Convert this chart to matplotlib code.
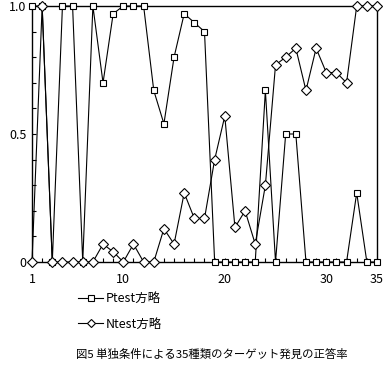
import matplotlib.pyplot as plt
import numpy as np

plt.rcParams['font.family'] = ['Noto Sans CJK JP', 'DejaVu Sans']

targets = np.arange(1, 36)
ptest = [1.0, 1.0, 0, 1.0, 1.0, 0, 1.0, 0.70, 0.97, 1.0,
         1.0, 1.0, 0.67, 0.54, 0.80, 0.97, 0.935, 0.90, 0, 0,
         0, 0, 0, 0.67, 0, 0.50, 0.50, 0, 0, 0,
         0, 0, 0.27, 0, 0]
ntest = [0, 1.0, 0, 0, 0, 0, 0, 0.07, 0.04, 0,
         0.07, 0, 0, 0.13, 0.07, 0.27, 0.17, 0.17, 0.40, 0.57,
         0.135, 0.20, 0.07, 0.30, 0.77, 0.80, 0.835, 0.67, 0.835, 0.74,
         0.74, 0.70, 1.0, 1.0, 1.0]
xtick_labels = [1, 10, 20, 30, 35]
caption = '図5 単独条件による35種類のターゲット発見の正答率'

fig = plt.figure(figsize=(3.84, 3.69), dpi=100)
ax = fig.add_axes([32/384, 1 - 262/369, 345/384, 256/369])

ax.plot(targets, ptest, color='black', lw=0.8, marker='s', ms=5,
        mfc='white', mec='black', mew=0.8, label='Ptest方略', clip_on=False, zorder=3)
ax.plot(targets, ntest, color='black', lw=0.8, marker='D', ms=5,
        mfc='white', mec='black', mew=0.8, label='Ntest方略', clip_on=False, zorder=3)

ax.set_xlim(1, 35)
ax.set_ylim(0, 1.0)
ax.set_xticks(xtick_labels)
ax.set_xticks(targets, minor=True)
ax.set_yticks([0, 0.5, 1.0])
ax.set_yticklabels(['0', '0.5', '1.0'])
ax.set_yticks(np.arange(0, 1.01, 0.1), minor=True)
ax.tick_params(which='both', direction='in', length=3, width=0.8, labelsize=9)
ax.tick_params(axis='x', which='major', pad=8)
ax.tick_params(axis='y', which='major', pad=4)
for s in ax.spines.values():
    s.set_linewidth(1)

fig.legend(loc='upper left', bbox_to_anchor=(72/384, 1 - 286/369), frameon=False,
           fontsize=9, handlelength=2.0, handletextpad=0.2, labelspacing=1.0,
           borderpad=0, markerscale=0.75)

fig.text(212/384, 1 - 354/369, caption, ha='center', va='center', fontsize=8.2)

fig.savefig('out.png', dpi=100)
